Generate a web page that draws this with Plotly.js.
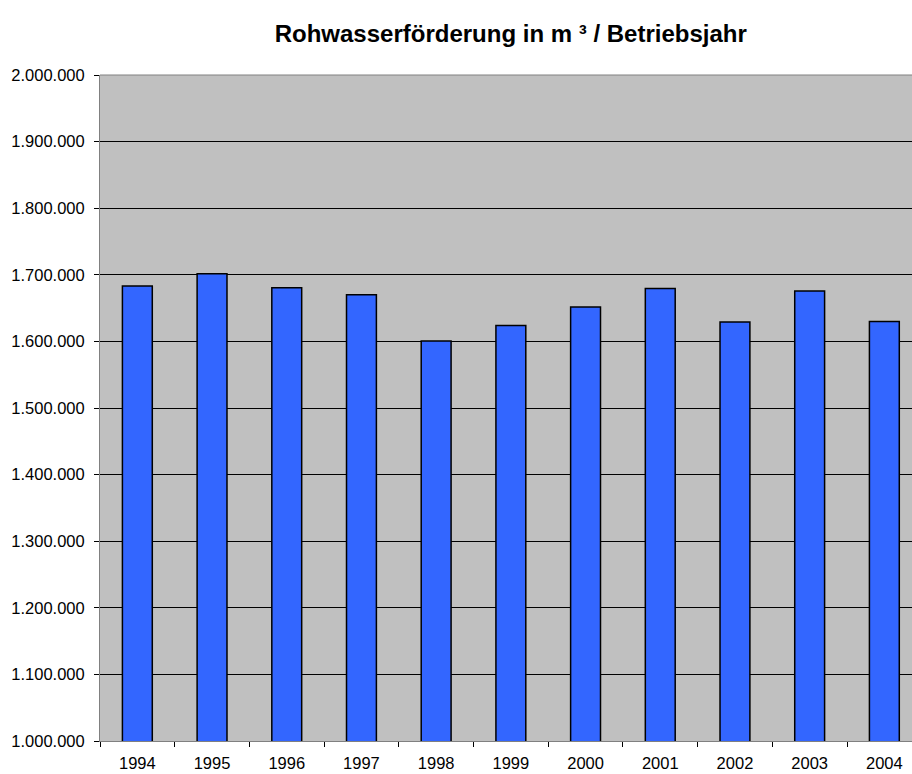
<!DOCTYPE html>
<html>
<head>
<meta charset="utf-8">
<script src="https://cdn.plot.ly/plotly-3.0.1.min.js"></script>
<style>html,body{margin:0;padding:0;background:#fff;}#chart{width:912px;height:774px;}</style>
</head>
<body>
<div id="chart"></div>
<script>
const years = ['1994','1995','1996','1997','1998','1999','2000','2001','2002','2003','2004'];
const foerderung = [1683000, 1701500, 1680500, 1670000, 1600500, 1624000, 1651500, 1679500, 1629000, 1675500, 1630000];
const yTicks = [1000000,1100000,1200000,1300000,1400000,1500000,1600000,1700000,1800000,1900000,2000000];
const titleText = 'Rohwasserförderung in m ³ / Betriebsjahr';

const trace = {
  type: 'bar',
  x: years,
  y: foerderung,
  width: 0.4,
  marker: {color: '#3366ff', line: {color: '#000000', width: 1.5}},
  hoverinfo: 'x+y'
};

const layout = {
  width: 912, height: 774,
  margin: {l: 100, r: 0, t: 75, b: 33, pad: 0},
  paper_bgcolor: '#ffffff',
  plot_bgcolor: '#c0c0c0',
  separators: ',.',
  font: {family: 'Liberation Sans, Arial, sans-serif', size: 16.5, color: '#000'},
  title: {text: '<b>' + titleText + '</b>', x: 0.56, xanchor: 'center', y: 0.957, yanchor: 'middle',
          font: {size: 24, color: '#000', family: 'Liberation Sans, Arial, sans-serif'}},
  showlegend: false,
  xaxis: {
    type: 'category',
    range: [-0.5, 10.37],
    tickson: 'boundaries',
    ticks: 'outside', ticklen: 5, tickcolor: '#000',
    ticklabelstandoff: 7,
    showline: true, linecolor: '#808080', linewidth: 1,
    showgrid: false, zeroline: false,
    tickfont: {size: 16.5, color: '#000'}
  },
  yaxis: {
    range: [1000000, 2000000],
    tickvals: yTicks,
    tickformat: ',d',
    ticks: 'outside', ticklen: 5, tickcolor: '#000',
    ticklabelstandoff: 6,
    showline: true, linecolor: '#808080', linewidth: 1,
    showgrid: true, gridcolor: '#000000', gridwidth: 1,
    zeroline: false,
    tickfont: {size: 16.5, color: '#000'}
  },
  shapes: [
    {type: 'line', xref: 'paper', yref: 'paper', x0: 0, x1: 1, y0: 1, y1: 1, line: {color: '#808080', width: 1}}
  ]
};

Plotly.newPlot('chart', [trace], layout, {displayModeBar: false, staticPlot: true});
</script>
</body>
</html>
